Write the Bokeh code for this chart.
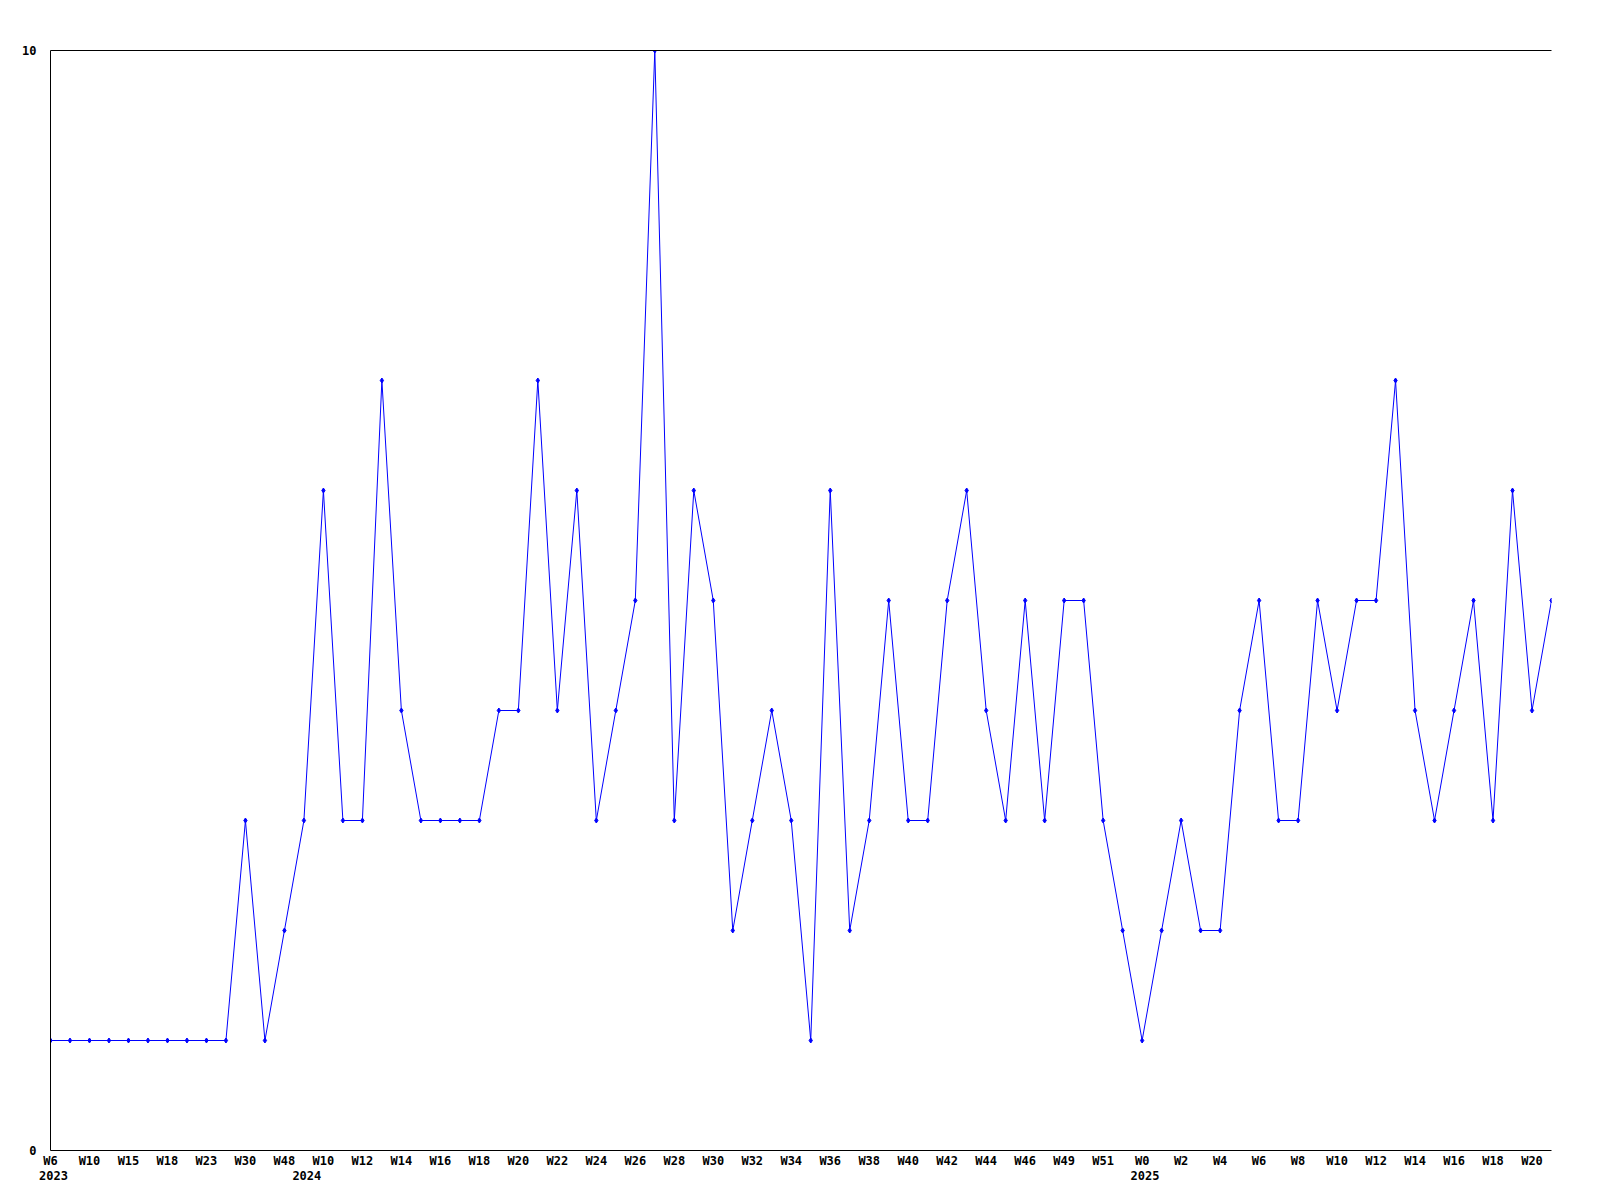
from bokeh.plotting import figure
from bokeh.models import FixedTicker, CustomJSTickFormatter, LinearAxis, Range1d, ColumnDataSource
from bokeh.embed import file_html
from bokeh.resources import INLINE

weeks = ["W6", "W8", "W10", "W12", "W15", "W16", "W18", "W20", "W23", "W27",
         "W30", "W40", "W48", "W9", "W10", "W11", "W12", "W13", "W14", "W15",
         "W16", "W17", "W18", "W19", "W20", "W21", "W22", "W23", "W24", "W25",
         "W26", "W27", "W28", "W29", "W30", "W31", "W32", "W33", "W34", "W35",
         "W36", "W37", "W38", "W39", "W40", "W41", "W42", "W43", "W44", "W45",
         "W46", "W48", "W49", "W50", "W51", "W52", "W0", "W1", "W2", "W3",
         "W4", "W5", "W6", "W7", "W8", "W9", "W10", "W11", "W12", "W13",
         "W14", "W15", "W16", "W17", "W18", "W19", "W20", "W21"]
years = ["2023"] * 13 + ["2024"] * 43 + ["2025"] * 22
values = [1, 1, 1, 1, 1, 1, 1, 1, 1, 1,
          3, 1, 2, 3, 6, 3, 3, 7, 4, 3,
          3, 3, 3, 4, 4, 7, 4, 6, 3, 4,
          5, 10, 3, 6, 5, 2, 3, 4, 3, 1,
          6, 2, 3, 5, 3, 3, 5, 6, 4, 3,
          5, 3, 5, 5, 3, 2, 1, 2, 3, 2,
          2, 4, 5, 3, 3, 5, 4, 5, 5, 7,
          4, 3, 4, 5, 3, 6, 4, 5]
y_ticks = [0, 10]

idx = list(range(len(values)))
week_labels = [w if i % 2 == 0 else "" for i, w in enumerate(weeks)]
year_labels = [y if (i == 0 or years[i - 1] != y) else "" for i, y in enumerate(years)]

FONT = "DejaVu Sans Mono"
FSIZE = "12px"

src = ColumnDataSource(dict(x=idx, y=values))

p = figure(frame_width=1501, frame_height=1100, output_backend="svg", toolbar_location=None,
           x_range=Range1d(0, len(values) - 1), y_range=Range1d(0, 10),
           min_border_left=50, min_border_top=50, min_border_right=30, min_border_bottom=10,
           x_axis_location=None)
p.outline_line_color = None
p.background_fill_color = "white"
p.border_fill_color = "white"

p.line("x", "y", source=src, line_color="#0000ff", line_width=1)
p.scatter("x", "y", source=src, marker="diamond", size=5, color="#0000ff")

p.xgrid.visible = False
p.ygrid.visible = False

# top border line (axis line only)
top = LinearAxis(ticker=FixedTicker(ticks=[]))
top.axis_line_color = "black"
top.major_tick_line_color = None
top.minor_tick_line_color = None
top.major_label_text_font_size = "0px"
p.add_layout(top, "above")

# y axis
ya = p.yaxis[0]
ya.ticker = FixedTicker(ticks=y_ticks)
ya.major_tick_line_color = None
ya.minor_tick_line_color = None
ya.major_tick_out = 0
ya.major_tick_in = 0
ya.major_label_standoff = 14
ya.axis_line_color = "black"
ya.major_label_text_font = FONT
ya.major_label_text_font_style = "bold"
ya.major_label_text_font_size = FSIZE
ya.major_label_text_color = "black"

def make_x_axis(labels, standoff, line, off):
    ticks = [i + off for i, l in enumerate(labels) if l]
    ax = LinearAxis(ticker=FixedTicker(ticks=ticks),
                    formatter=CustomJSTickFormatter(args=dict(labels=labels, off=off),
                                                    code="const i = Math.round(tick - off); return labels[i] || '';"))
    ax.major_tick_line_color = None
    ax.minor_tick_line_color = None
    ax.major_tick_out = 0
    ax.major_tick_in = 0
    ax.major_label_standoff = standoff
    ax.axis_line_color = "black" if line else None
    ax.major_label_text_font = FONT
    ax.major_label_text_font_style = "bold"
    ax.major_label_text_font_size = FSIZE
    ax.major_label_text_color = "black"
    return ax

p.add_layout(make_x_axis(week_labels, 3, True, 0.0), "below")
p.add_layout(make_x_axis(year_labels, 0, False, 0.15), "below")

open("out.html", "w").write(file_html(p, INLINE))
